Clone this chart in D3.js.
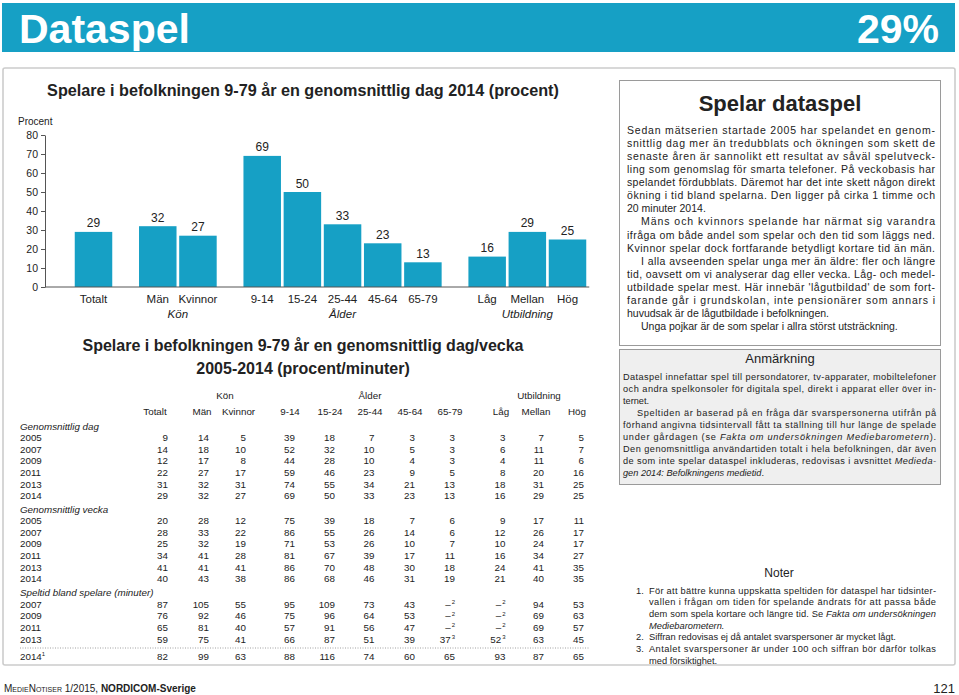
<!DOCTYPE html>
<html><head><meta charset="utf-8">
<script src="https://cdn.jsdelivr.net/npm/d3@7"></script>
<style>
html,body{margin:0;padding:0;background:#fff;}
svg text{font-family:"Liberation Sans",Arial,sans-serif;fill:#222;}
</style></head>
<body>
<script>
// ---------- DATA ----------
const categories = ["Totalt","Män","Kvinnor","9-14","15-24","25-44","45-64","65-79","Låg","Mellan","Hög"];
const categoryGroupIndex = [0,1,1,2,2,2,2,2,3,3,3];
const groupLabels = ["Kön","Ålder","Utbildning"];
const share2014 = [29,32,27,69,50,33,23,13,16,29,25];
const yTicks = [0,10,20,30,40,50,60,70,80];

const dagYears = ["2005","2007","2009","2011","2013","2014"];
const dagValues = [
  [9,14,5,39,18,7,3,3,3,7,5],
  [14,18,10,52,32,10,5,3,6,11,7],
  [12,17,8,44,28,10,4,3,4,11,6],
  [22,27,17,59,46,23,9,5,8,20,16],
  [31,32,31,74,55,34,21,13,18,31,25],
  [29,32,27,69,50,33,23,13,16,29,25]
];
const veckaYears = ["2005","2007","2009","2011","2013","2014"];
const veckaValues = [
  [20,28,12,75,39,18,7,6,9,17,11],
  [28,33,22,86,55,26,14,6,12,26,17],
  [25,32,19,71,53,26,10,7,10,24,17],
  [34,41,28,81,67,39,17,11,16,34,27],
  [41,41,41,86,70,48,30,18,24,41,35],
  [40,43,38,86,68,46,31,19,21,40,35]
];
const speltidYears = ["2007","2009","2011","2013","2014"];
const speltidYearNotes = ["","","","","1"];
const speltidValues = [
  [87,105,55,95,109,73,43,"–","–",94,53],
  [76,92,46,75,96,64,53,"–","–",69,63],
  [65,81,40,57,91,56,47,"–","–",69,57],
  [59,75,41,66,87,51,39,37,52,63,45],
  [82,99,63,88,116,74,60,65,93,87,65]
];
const speltidNotes = [
  ["","","","","","","","2","2","",""],
  ["","","","","","","","2","2","",""],
  ["","","","","","","","2","2","",""],
  ["","","","","","","","3","3","",""],
  ["","","","","","","","","","",""]
];

// ---------- LAYOUT ----------
const W = 959, H = 695;
const teal = "#16a0c5";
const svg = d3.select("body").append("svg").attr("width",W).attr("height",H);

// header band
svg.append("rect").attr("x",2).attr("y",3).attr("width",953).attr("height",49).attr("fill",teal);
svg.append("text").attr("x",19).attr("y",43).attr("font-size",41).attr("font-weight","bold")
  .style("fill","#fff").text("Dataspel");
svg.append("text").attr("x",939).attr("y",43).attr("font-size",41).attr("font-weight","bold")
  .attr("text-anchor","end").style("fill","#fff").text("29%");

// outer frame
svg.append("rect").attr("x",3).attr("y",68).attr("width",952).attr("height",597)
  .attr("rx",2).attr("fill","none").attr("stroke","#cccccc").attr("stroke-width",1.6);

// ---------- BAR CHART ----------
svg.append("text").attr("x",303).attr("y",96).attr("text-anchor","middle")
  .attr("font-size",16.2).attr("font-weight","bold")
  .text("Spelare i befolkningen 9-79 år en genomsnittlig dag 2014 (procent)");

const slot = categories.map((c,i)=> i + categoryGroupIndex[i]*0.6);
const x = d3.scaleLinear().domain([0, d3.max(slot)]).range([93.5, 567.5]);
const bw = 37.5;
const y = d3.scaleLinear().domain([0,80]).range([287,135]);
const axisX = 45;

const yAxis = svg.append("g").attr("transform",`translate(${axisX},0)`)
  .call(d3.axisLeft(y).tickValues(yTicks).tickSize(4).tickPadding(3).tickSizeOuter(0));
yAxis.selectAll("path,line").attr("stroke","#555");
yAxis.selectAll("text").attr("font-size",10.5).style("fill","#222")
  .attr("font-family","Liberation Sans, Arial, sans-serif");

svg.append("text").attr("x",18).attr("y",125).attr("font-size",10).text("Procent");

svg.selectAll("rect.bar").data(share2014).enter().append("rect").attr("class","bar")
  .attr("x",(d,i)=>x(slot[i])-bw/2).attr("width",bw)
  .attr("y",d=>y(d)).attr("height",d=>y(0)-y(d)).attr("fill",teal);

svg.selectAll("text.val").data(share2014).enter().append("text").attr("class","val")
  .attr("x",(d,i)=>x(slot[i])).attr("y",d=>y(d)-4.5).attr("text-anchor","middle")
  .attr("font-size",12).text(d=>d);

svg.append("line").attr("x1",axisX).attr("x2",x(d3.max(slot))+bw/2+3)
  .attr("y1",y(0)).attr("y2",y(0)).attr("stroke","#555");

svg.selectAll("text.cat").data(categories).enter().append("text").attr("class","cat")
  .attr("x",(d,i)=>x(slot[i])).attr("y",303).attr("text-anchor","middle")
  .attr("font-size",11.5).text(d=>d);

const groupCenter = groupLabels.map((g,gi)=>{
  const idx = categories.map((c,i)=>i).filter(i=>categoryGroupIndex[i]===gi+1);
  return (x(slot[idx[0]])+x(slot[idx[idx.length-1]]))/2;
});
svg.selectAll("text.grp").data(groupLabels).enter().append("text").attr("class","grp")
  .attr("x",(d,i)=>groupCenter[i]).attr("y",318).attr("text-anchor","middle")
  .attr("font-size",11.5).attr("font-style","italic").text(d=>d);

// ---------- TABLE ----------
svg.append("text").attr("x",303).attr("y",351).attr("text-anchor","middle")
  .attr("font-size",16).attr("font-weight","bold")
  .text("Spelare i befolkningen 9-79 år en genomsnittlig dag/vecka");
svg.append("text").attr("x",303).attr("y",374).attr("text-anchor","middle")
  .attr("font-size",16).attr("font-weight","bold")
  .text("2005-2014 (procent/minuter)");

const colRight = [168,209,246,295,335,374.5,415,455,505.5,544,584];
const colHeadX = [155,202,238.5,290,330,370,410,450,501,536,577];
const tfs = 9.8;
const groupHeadX = [225,370,539];
svg.selectAll("text.tg").data(groupLabels).enter().append("text").attr("class","tg")
  .attr("x",(d,i)=>groupHeadX[i]).attr("y",398.5).attr("text-anchor","middle")
  .attr("font-size",tfs).text(d=>d);
svg.selectAll("text.th").data(categories).enter().append("text").attr("class","th")
  .attr("x",(d,i)=>colHeadX[i]).attr("y",414.5).attr("text-anchor","middle")
  .attr("font-size",tfs).text(d=>d);

const pitch = 11.65;
function section(title, titleY, years, values, yearNotes, notes){
  svg.append("text").attr("x",20).attr("y",titleY+3.5).attr("font-size",tfs)
    .attr("font-style","italic").text(title);
  years.forEach((yr,r)=>{
    const cy = titleY + pitch*(r+1) + (yearNotes && yearNotes[r] ? 5.5 : 0);
    const t = svg.append("text").attr("x",20).attr("y",cy+3.5).attr("font-size",tfs);
    t.append("tspan").text(yr);
    if(yearNotes && yearNotes[r]) t.append("tspan").attr("font-size",6).attr("dy",-3.5).text(yearNotes[r]);
    values[r].forEach((v,c)=>{
      const note = notes ? notes[r][c] : "";
      const tx = svg.append("text").attr("x",colRight[c]).attr("y",cy+3.5)
        .attr("text-anchor","end").attr("font-size",tfs);
      tx.append("tspan").text(v);
      if(note) tx.append("tspan").attr("font-size",6).attr("dx",1).attr("dy",-3.5).text(note);
    });
  });
}
section("Genomsnittlig dag", 426, dagYears, dagValues);
section("Genomsnittlig vecka", 509, veckaYears, veckaValues);
section("Speltid bland spelare (minuter)", 592.5, speltidYears, speltidValues, speltidYearNotes, speltidNotes);
svg.append("line").attr("x1",20).attr("x2",590).attr("y1",648).attr("y2",648)
  .attr("stroke","#888").attr("stroke-width",0.8).attr("stroke-dasharray","1,1.5");

// ---------- RIGHT TEXT BOXES ----------
svg.append("rect").attr("x",619.5).attr("y",80.5).attr("width",321).attr("height",265)
  .attr("fill","#fff").attr("stroke","#9a9a9a");
svg.append("text").attr("x",780).attr("y",111).attr("text-anchor","middle")
  .attr("font-size",22).attr("font-weight","bold").text("Spelar dataspel");

function para(lines, opts){
  lines.forEach((ln,i)=>{
    const xx = opts.x + (ln.ind||0);
    const t = svg.append("text").attr("x",xx).attr("y",opts.y + i*opts.lh)
      .attr("font-size",opts.fs);
    const parts = Array.isArray(ln.t) ? ln.t : [[ln.t,false]];
    parts.forEach(p=>{
      const s = t.append("tspan").text(p[0]);
      if(p[1]) s.attr("font-style","italic");
    });
    if(ln.j) t.attr("textLength", opts.right - xx).attr("lengthAdjust","spacing");
  });
}
para([
 {t:"Sedan mätserien startade 2005 har spelandet en genom-",j:1},
 {t:"snittlig dag mer än tredubblats och ökningen som skett de",j:1},
 {t:"senaste åren är sannolikt ett resultat av såväl spelutveck-",j:1},
 {t:"ling som genomslag för smarta telefoner. På veckobasis har",j:1},
 {t:"spelandet fördubblats. Däremot har det inte skett någon direkt",j:1},
 {t:"ökning i tid bland spelarna. Den ligger på cirka 1 timme och",j:1},
 {t:"20 minuter 2014."},
 {t:"Mäns och kvinnors spelande har närmat sig varandra",j:1,ind:14},
 {t:"ifråga om både andel som spelar och den tid som läggs ned.",j:1},
 {t:"Kvinnor spelar dock fortfarande betydligt kortare tid än män.",j:1},
 {t:"I alla avseenden spelar unga mer än äldre: fler och längre",j:1,ind:14},
 {t:"tid, oavsett om vi analyserar dag eller vecka. Låg- och medel-",j:1},
 {t:"utbildade spelar mest. Här innebär 'lågutbildad' de som fort-",j:1},
 {t:"farande går i grundskolan, inte pensionärer som annars i",j:1},
 {t:"huvudsak är de lågutbildade i befolkningen.",j:0},
 {t:"Unga pojkar är de som spelar i allra störst utsträckning.",ind:14}
], {x:627, right:935, y:134, lh:13.07, fs:10.5});

svg.append("rect").attr("x",619.5).attr("y",349.5).attr("width",321).attr("height",135)
  .attr("fill","#efefef").attr("stroke","#9a9a9a");
svg.append("text").attr("x",780).attr("y",363).attr("text-anchor","middle")
  .attr("font-size",13).text("Anmärkning");
para([
 {t:"Dataspel innefattar spel till persondatorer, tv-apparater, mobiltelefoner",j:1},
 {t:"och andra spelkonsoler för digitala spel, direkt i apparat eller över in-",j:1},
 {t:"ternet."},
 {t:"Speltiden är baserad på en fråga där svarspersonerna utifrån på",j:1,ind:14},
 {t:"förhand angivna tidsintervall fått ta ställning till hur länge de spelade",j:1},
 {t:[["under gårdagen (se ",false],["Fakta om undersökningen Mediebarometern",true],[").",false]],j:1},
 {t:"Den genomsnittliga användartiden totalt i hela befolkningen, där även",j:1},
 {t:[["de som inte spelar dataspel inkluderas, redovisas i avsnittet ",false],["Medieda-",true]],j:1},
 {t:[["gen 2014: Befolkningens medietid",true],[".",false]]}
], {x:623, right:936, y:379.5, lh:12.1, fs:9.2});

svg.append("text").attr("x",779).attr("y",577).attr("text-anchor","middle")
  .attr("font-size",12).text("Noter");
const noteNums = ["1.","2.","3."];
const noteNumY = [593.5, 640.3, 652];
svg.selectAll("text.nn").data(noteNums).enter().append("text").attr("class","nn")
  .attr("x",636).attr("y",(d,i)=>noteNumY[i]).attr("font-size",9.3).text(d=>d);
para([
 {t:"För att bättre kunna uppskatta speltiden för dataspel har tidsinter-",j:1},
 {t:"vallen i frågan om tiden för spelande ändrats för att passa både",j:1},
 {t:[["dem som spela kortare och längre tid. Se ",false],["Fakta om undersökningen",true]],j:1},
 {t:[["Mediebarometern.",true]]},
 {t:"Siffran redovisas ej då antalet svarspersoner är mycket lågt."},
 {t:"Antalet svarspersoner är under 100 och siffran bör därför tolkas",j:1},
 {t:"med försiktighet."}
], {x:649, right:936, y:593.5, lh:11.7, fs:9.3});

// ---------- FOOTER ----------
const ft = svg.append("text").attr("x",4).attr("y",692).attr("font-size",10)
  .attr("font-family","DejaVu Sans, sans-serif");
ft.append("tspan").style("font-variant","small-caps").text("MedieNotiser");
ft.append("tspan").text(" 1/2015, ");
ft.append("tspan").attr("font-weight","bold").text("NORDICOM-Sverige");
svg.append("text").attr("x",955).attr("y",693).attr("text-anchor","end")
  .attr("font-size",13).text("121");
</script>
</body></html>
